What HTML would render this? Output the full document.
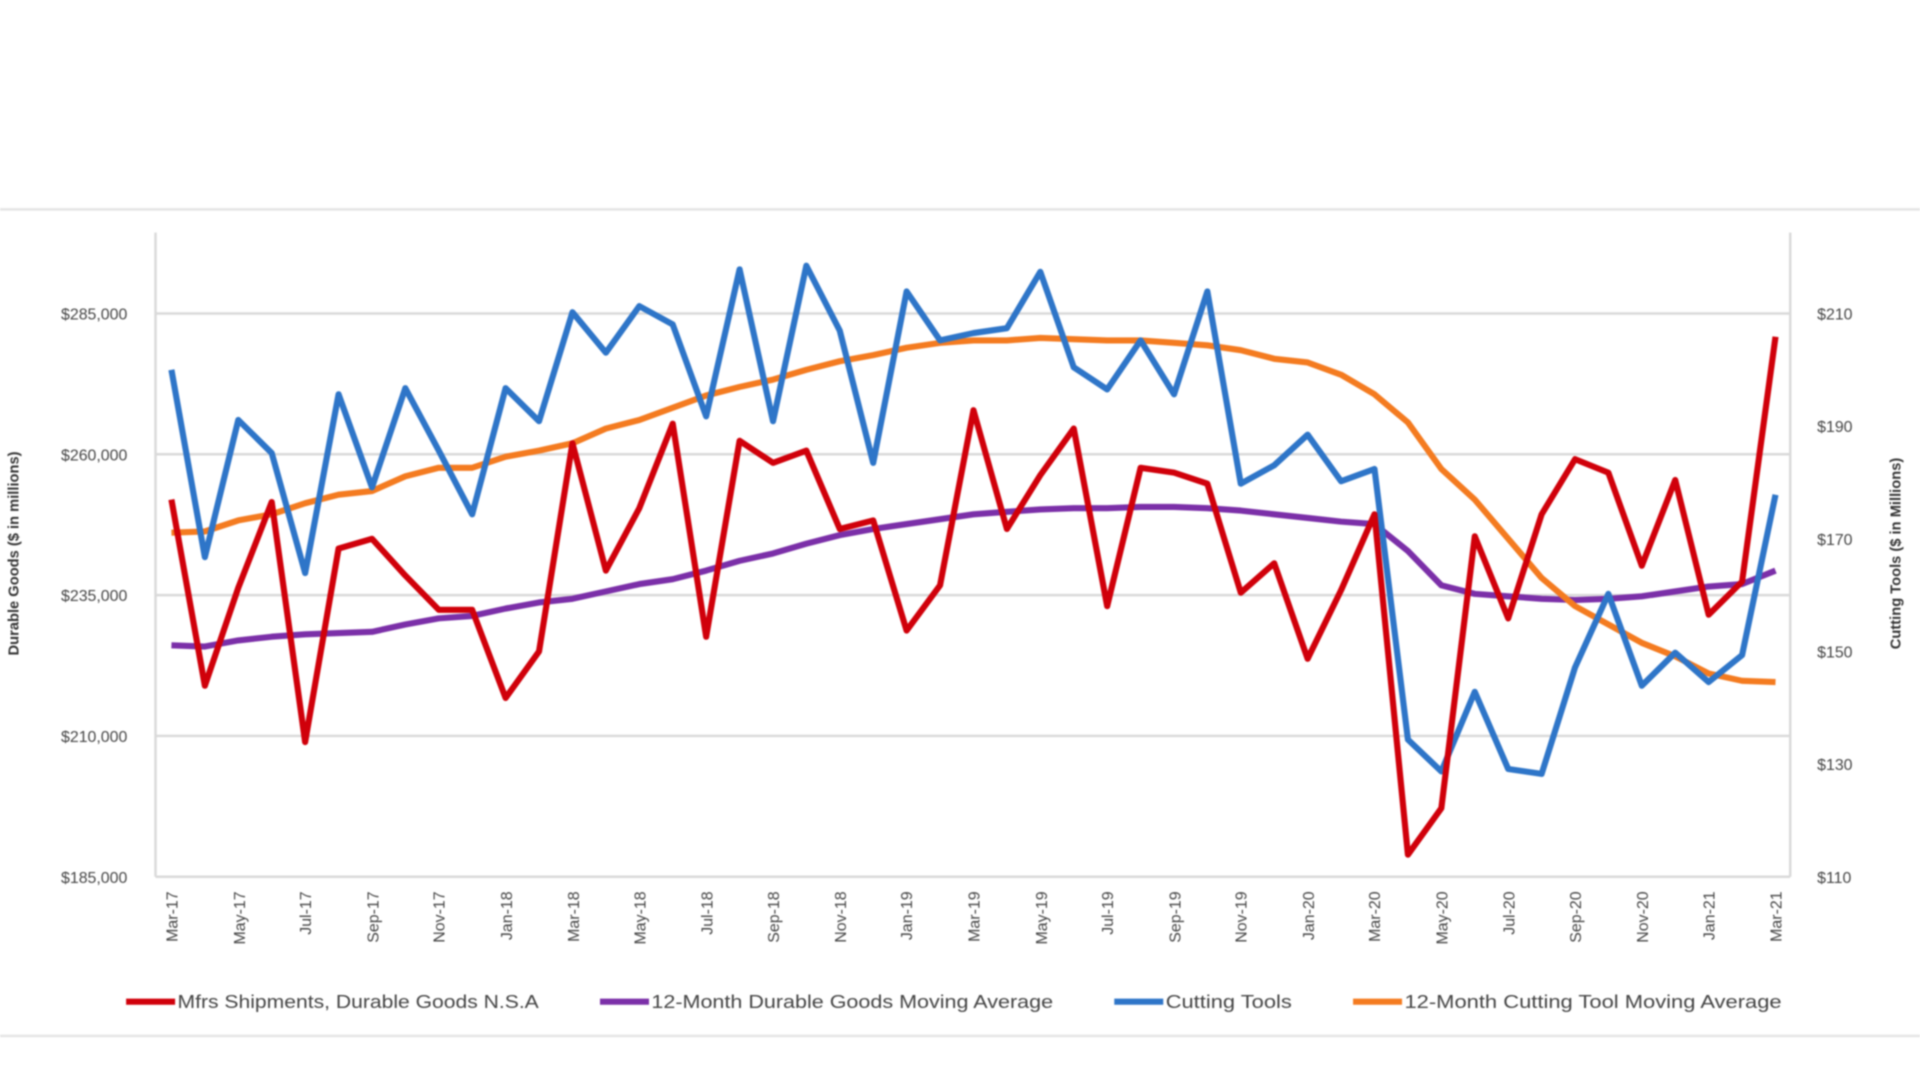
<!DOCTYPE html>
<html><head><meta charset="utf-8"><style>
html,body{margin:0;padding:0;background:#fff;width:1920px;height:1080px;overflow:hidden}
svg{display:block;filter:blur(0.8px)}
text{font-family:"Liberation Sans",sans-serif;fill:#444}
</style></head><body>
<svg width="1920" height="1080" viewBox="0 0 1568 882" preserveAspectRatio="none">
<line x1="0" y1="171" x2="1568" y2="171" stroke="#e4e4e4" stroke-width="2"/>
<line x1="0" y1="846" x2="1568" y2="846" stroke="#e4e4e4" stroke-width="2"/>
<g stroke="#d9d9d9" stroke-width="2">
<line x1="127" y1="256" x2="1462" y2="256"/><line x1="127" y1="371" x2="1462" y2="371"/>
<line x1="127" y1="486" x2="1462" y2="486"/><line x1="127" y1="601" x2="1462" y2="601"/>
<line x1="127" y1="716" x2="1462" y2="716"/>
<line x1="127" y1="190" x2="127" y2="716"/><line x1="1462" y1="190" x2="1462" y2="716"/>
</g>
<g font-size="13" text-anchor="end">
<text x="104" y="261">$285,000</text><text x="104" y="376">$260,000</text><text x="104" y="491">$235,000</text><text x="104" y="606">$210,000</text><text x="104" y="721">$185,000</text>
</g>
<g font-size="13">
<text x="1484" y="261">$210</text><text x="1484" y="353">$190</text><text x="1484" y="445">$170</text><text x="1484" y="537">$150</text><text x="1484" y="629">$130</text><text x="1484" y="721">$110</text>
</g>
<text transform="translate(15,452) rotate(-90)" font-size="12" font-weight="bold" text-anchor="middle" style="fill:#333">Durable Goods ($ in millions)</text>
<text transform="translate(1552,452) rotate(-90)" font-size="12" font-weight="bold" text-anchor="middle" style="fill:#333">Cutting Tools ($ in Millions)</text>
<g font-size="13" text-anchor="end">
<text transform="translate(145,728) rotate(-90)">Mar-17</text>
<text transform="translate(200,728) rotate(-90)">May-17</text>
<text transform="translate(254,728) rotate(-90)">Jul-17</text>
<text transform="translate(309,728) rotate(-90)">Sep-17</text>
<text transform="translate(363,728) rotate(-90)">Nov-17</text>
<text transform="translate(418,728) rotate(-90)">Jan-18</text>
<text transform="translate(473,728) rotate(-90)">Mar-18</text>
<text transform="translate(527,728) rotate(-90)">May-18</text>
<text transform="translate(582,728) rotate(-90)">Jul-18</text>
<text transform="translate(636,728) rotate(-90)">Sep-18</text>
<text transform="translate(691,728) rotate(-90)">Nov-18</text>
<text transform="translate(745,728) rotate(-90)">Jan-19</text>
<text transform="translate(800,728) rotate(-90)">Mar-19</text>
<text transform="translate(855,728) rotate(-90)">May-19</text>
<text transform="translate(909,728) rotate(-90)">Jul-19</text>
<text transform="translate(964,728) rotate(-90)">Sep-19</text>
<text transform="translate(1018,728) rotate(-90)">Nov-19</text>
<text transform="translate(1073,728) rotate(-90)">Jan-20</text>
<text transform="translate(1127,728) rotate(-90)">Mar-20</text>
<text transform="translate(1182,728) rotate(-90)">May-20</text>
<text transform="translate(1237,728) rotate(-90)">Jul-20</text>
<text transform="translate(1291,728) rotate(-90)">Sep-20</text>
<text transform="translate(1346,728) rotate(-90)">Nov-20</text>
<text transform="translate(1400,728) rotate(-90)">Jan-21</text>
<text transform="translate(1455,728) rotate(-90)">Mar-21</text>
</g>
<g id="series" fill="none" stroke-width="5" stroke-linejoin="round"></g>
<g font-size="15">
<line x1="103" y1="818" x2="143" y2="818" stroke="#d0000a" stroke-width="5"/><text x="145" y="823" textLength="295" lengthAdjust="spacingAndGlyphs">Mfrs Shipments, Durable Goods N.S.A</text>
<line x1="490" y1="818" x2="530" y2="818" stroke="#7b2fa8" stroke-width="5"/><text x="532" y="823" textLength="328" lengthAdjust="spacingAndGlyphs">12-Month Durable Goods Moving Average</text>
<line x1="910" y1="818" x2="950" y2="818" stroke="#2e75c8" stroke-width="5"/><text x="952" y="823" textLength="103" lengthAdjust="spacingAndGlyphs">Cutting Tools</text>
<line x1="1105" y1="818" x2="1145" y2="818" stroke="#f47b20" stroke-width="5"/><text x="1147" y="823" textLength="308" lengthAdjust="spacingAndGlyphs">12-Month Cutting Tool Moving Average</text>
</g>
</svg>
<script>
var S={
"#7b2fa8":[527,528,523,520,518,517,516,510,505,503,497,492,489,483,477,473,466,458,452,444,437,432,428,424,420,418,416,415,415,414,414,415,417,420,423,426,428,450,478,485,487,489,490,489,487,483,479,477,466],
"#f47b20":[435,434,425,420,411,404,401,389,382,382,373,368,362,350,343,333,323,316,310,302,295,290,284,280,278,278,276,277,278,278,280,282,286,293,296,306,322,345,383,408,440,472,495,510,525,536,550,556,557],
"#2e75c8":[302,455,343,370,468,322,398,317,368,420,317,344,255,288,250,265,340,220,344,217,270,378,238,278,272,268,222,300,318,278,322,238,395,380,355,393,383,604,630,565,628,632,545,485,560,533,557,535,404],
"#d0000a":[408,560,480,410,606,448,440,470,498,498,570,532,362,466,415,346,520,360,378,368,432,425,515,478,335,432,388,350,495,382,386,395,484,460,538,482,420,698,660,438,505,420,375,386,462,392,502,475,275]};
var g=document.getElementById('series');
for(var c in S){var p=S[c].map(function(y,i){return (140+i*1310/48).toFixed(1)+','+y}).join(' ');
var e=document.createElementNS('http://www.w3.org/2000/svg','polyline');e.setAttribute('points',p);e.setAttribute('stroke',c);g.appendChild(e);}
</script>
</body></html>
